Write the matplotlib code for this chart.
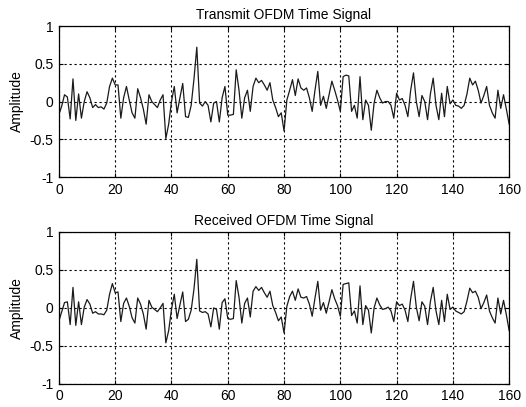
import matplotlib
matplotlib.use("Agg")
import matplotlib.pyplot as plt
import numpy as np

# sample index 0..160
samples = list(range(161))

tx_signal = [
    -0.17, -0.06, 0.09, 0.06, -0.23, 0.30, -0.25, 0.10, -0.22, 0.00,
    0.13, 0.05, -0.08, -0.04, -0.08, -0.07, -0.10, -0.02, 0.20, 0.31,
    0.22, 0.22, -0.22, 0.05, 0.20, 0.02, -0.15, -0.22, 0.17, 0.05,
    -0.10, -0.30, 0.09, 0.00, -0.04, -0.08, 0.02, 0.09, -0.49, -0.30,
    0.00, 0.20, -0.15, 0.05, 0.24, -0.20, -0.21, -0.05, 0.30, 0.72,
    -0.02, -0.06, 0.00, -0.05, -0.27, -0.02, 0.00, -0.27, 0.05, 0.20,
    -0.18, -0.18, -0.17, 0.42, 0.15, -0.22, 0.05, 0.15, -0.13, 0.20,
    0.31, 0.25, 0.28, 0.22, 0.15, 0.25, 0.02, -0.08, -0.20, -0.15,
    -0.39, 0.02, 0.15, 0.29, 0.08, 0.30, 0.18, 0.15, 0.18, 0.05,
    -0.13, 0.15, 0.40, -0.05, 0.07, -0.09, 0.09, 0.27, 0.15, 0.02,
    -0.13, 0.33, 0.35, 0.34, -0.13, -0.05, -0.22, 0.33, -0.24, 0.02,
    -0.05, -0.38, -0.02, 0.15, 0.05, -0.02, 0.00, 0.00, -0.05, -0.22,
    0.11, 0.02, 0.04, -0.05, -0.20, 0.15, 0.38, 0.00, -0.20, 0.08,
    0.00, -0.24, 0.10, 0.31, -0.05, -0.24, 0.11, -0.20, 0.20, -0.03,
    0.02, -0.05, -0.06, -0.09, -0.05, 0.10, 0.31, 0.22, 0.27, 0.15,
    -0.02, 0.08, 0.20, -0.05, -0.15, -0.22, 0.15, -0.09, 0.09, -0.10,
    -0.30,
]

rx_signal = [
    -0.17, -0.05, 0.07, 0.08, -0.22, 0.27, -0.23, 0.08, -0.22, 0.01,
    0.11, 0.05, -0.07, -0.05, -0.08, -0.08, -0.09, -0.03, 0.18, 0.32,
    0.20, 0.21, -0.18, 0.06, 0.13, 0.02, -0.13, -0.20, 0.13, 0.05,
    -0.08, -0.28, 0.10, 0.01, -0.02, -0.05, 0.00, 0.06, -0.46, -0.30,
    -0.02, 0.18, -0.14, 0.04, 0.21, -0.18, -0.15, -0.03, 0.25, 0.64,
    -0.04, -0.06, -0.05, -0.08, -0.25, 0.00, -0.02, -0.28, 0.07, 0.12,
    -0.14, -0.15, -0.14, 0.36, 0.14, -0.20, 0.06, 0.13, -0.12, 0.22,
    0.28, 0.23, 0.27, 0.20, 0.14, 0.22, 0.03, -0.06, -0.17, -0.12,
    -0.33, 0.02, 0.15, 0.22, 0.10, 0.25, 0.14, 0.13, 0.15, 0.05,
    -0.11, 0.13, 0.35, -0.03, 0.07, -0.07, 0.08, 0.24, 0.12, 0.03,
    -0.11, 0.31, 0.32, 0.33, -0.10, -0.04, -0.20, 0.29, -0.22, 0.03,
    -0.03, -0.33, 0.00, 0.13, 0.04, -0.02, -0.01, 0.01, -0.04, -0.18,
    0.08, 0.03, 0.05, -0.03, -0.18, 0.12, 0.35, 0.01, -0.17, 0.08,
    0.02, -0.22, 0.08, 0.27, -0.04, -0.22, 0.10, -0.18, 0.18, -0.02,
    0.01, -0.04, -0.06, -0.08, -0.05, 0.09, 0.26, 0.20, 0.22, 0.14,
    -0.01, 0.07, 0.17, -0.04, -0.13, -0.20, 0.13, -0.08, 0.10, -0.09,
    -0.30,
]

titles = ["Transmit OFDM Time Signal", "Received OFDM Time Signal"]
xticks = [0, 20, 40, 60, 80, 100, 120, 140, 160]
yticks = [-1, -0.5, 0, 0.5, 1]
ytick_labels = ["-1", "-0.5", "0", "0.5", "1"]

plt.rcParams["font.family"] = ["Liberation Sans Narrow", "Liberation Sans", "DejaVu Sans"]
plt.rcParams["font.size"] = 10

fig = plt.figure(figsize=(5.26, 4.07), dpi=100)
ax_top = fig.add_axes([0.112, 0.565, 0.856, 0.371])
ax_bot = fig.add_axes([0.112, 0.057, 0.856, 0.373])

for ax, sig, title in zip([ax_top, ax_bot], [tx_signal, rx_signal], titles):
    ax.plot(samples, sig, color="#1a1a1a", linewidth=0.9)
    ax.set_xlim(0, 160)
    ax.set_ylim(-1, 1)
    ax.set_xticks(xticks)
    ax.set_yticks(yticks)
    ax.set_yticklabels(ytick_labels)
    ax.grid(True, color="black", linestyle=(0, (2, 2.5)), linewidth=0.8)
    ax.tick_params(direction="in", length=3, top=True, right=True, pad=4)
    for sp in ax.spines.values():
        sp.set_linewidth(0.9)
        sp.set_color("black")
    ax.set_title(title, fontsize=10, pad=5)
    ax.set_ylabel("Amplitude", fontsize=10, labelpad=4)

fig.savefig("out.png", dpi=100)
